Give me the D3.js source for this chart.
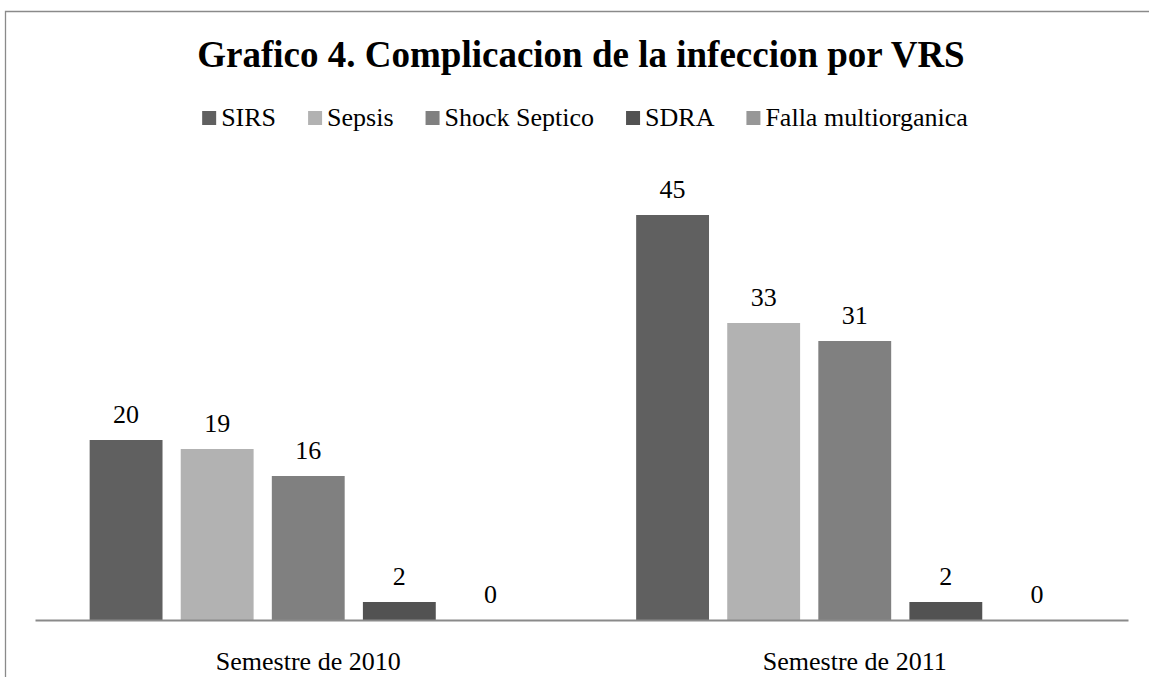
<!DOCTYPE html>
<meta charset="utf-8">
<title>Grafico 4</title>
<style>
  body { margin: 0; background: #fff; }
</style>
<body>
<svg width="1149" height="677"></svg>
<script src="https://d3js.org/d3.v7.min.js"></script>
<script>
const categories = ["Semestre de 2010", "Semestre de 2011"];
const series = ["SIRS", "Sepsis", "Shock Septico", "SDRA", "Falla multiorganica"];
const values2010 = [20, 19, 16, 2, 0];
const values2011 = [45, 33, 31, 2, 0];
const colors = ["#606060", "#b2b2b2", "#808080", "#525252", "#979797"];

const FONT = "Liberation Serif";
const svg = d3.select("svg").attr("font-family", FONT);

// frame (only left + top edges fall inside the picture)
svg.append("path")
    .attr("d", "M5.5,677V11.5H1149")
    .attr("fill", "none")
    .attr("stroke", "#8a8a8a")
    .attr("stroke-width", 1.3);

svg.append("text")
    .attr("x", 581).attr("y", 67)
    .attr("text-anchor", "middle")
    .style("font-family", FONT)
    .style("font-size", "37px").style("font-weight", "bold")
    .text("Grafico 4. Complicacion de la infeccion por VRS");

// legend
const legend = svg.append("g");
let lx = 0;
series.forEach((s, i) => {
    const g = legend.append("g").attr("transform", `translate(${lx},0)`);
    g.append("rect").attr("x", 0).attr("y", -15).attr("width", 14).attr("height", 14).attr("fill", colors[i]);
    const t = g.append("text").attr("x", 19).attr("y", 0)
        .style("font-family", FONT).style("font-size", "26px").text(s);
    lx += 19 + t.node().getComputedTextLength() + 32;
});
lx -= 32;
legend.attr("transform", `translate(${585 - lx / 2},126)`);

const data = categories.map((c, i) => ({cat: c, vals: [values2010, values2011][i]}));

const x0 = d3.scaleBand().domain(categories).range([35, 1128]);
const x1 = d3.scaleBand().domain(series).range([0, x0.bandwidth()]).paddingInner(0.2).paddingOuter(0.6);
const y = d3.scaleLinear().domain([0, 50]).range([620, 170]);

const groups = svg.selectAll("g.cat").data(data).join("g")
    .attr("class", "cat")
    .attr("transform", d => `translate(${x0(d.cat)},0)`);

groups.selectAll("rect").data(d => d.vals.map((v, i) => ({s: series[i], v, i}))).join("rect")
    .attr("x", d => x1(d.s))
    .attr("y", d => y(d.v))
    .attr("width", x1.bandwidth())
    .attr("height", d => y(0) - y(d.v))
    .attr("fill", d => colors[d.i]);

groups.selectAll("text.lbl").data(d => d.vals.map((v, i) => ({s: series[i], v}))).join("text")
    .attr("class", "lbl")
    .attr("x", d => x1(d.s) + x1.bandwidth() / 2)
    .attr("y", d => y(d.v) - 17)
    .attr("text-anchor", "middle")
    .style("font-family", FONT)
    .style("font-size", "26px")
    .text(d => d.v);

// category axis
const axis = svg.append("g").attr("transform", "translate(0,620)")
    .call(d3.axisBottom(x0).tickSize(0).tickPadding(50));
axis.select(".domain").attr("stroke", "#8a8a8a").attr("stroke-width", 2);
axis.selectAll(".tick text")
    .style("font-family", FONT)
    .style("font-size", "26px")
    .attr("fill", "#000")
    .attr("dy", 0)
    .attr("y", 50);
</script>
</body>
